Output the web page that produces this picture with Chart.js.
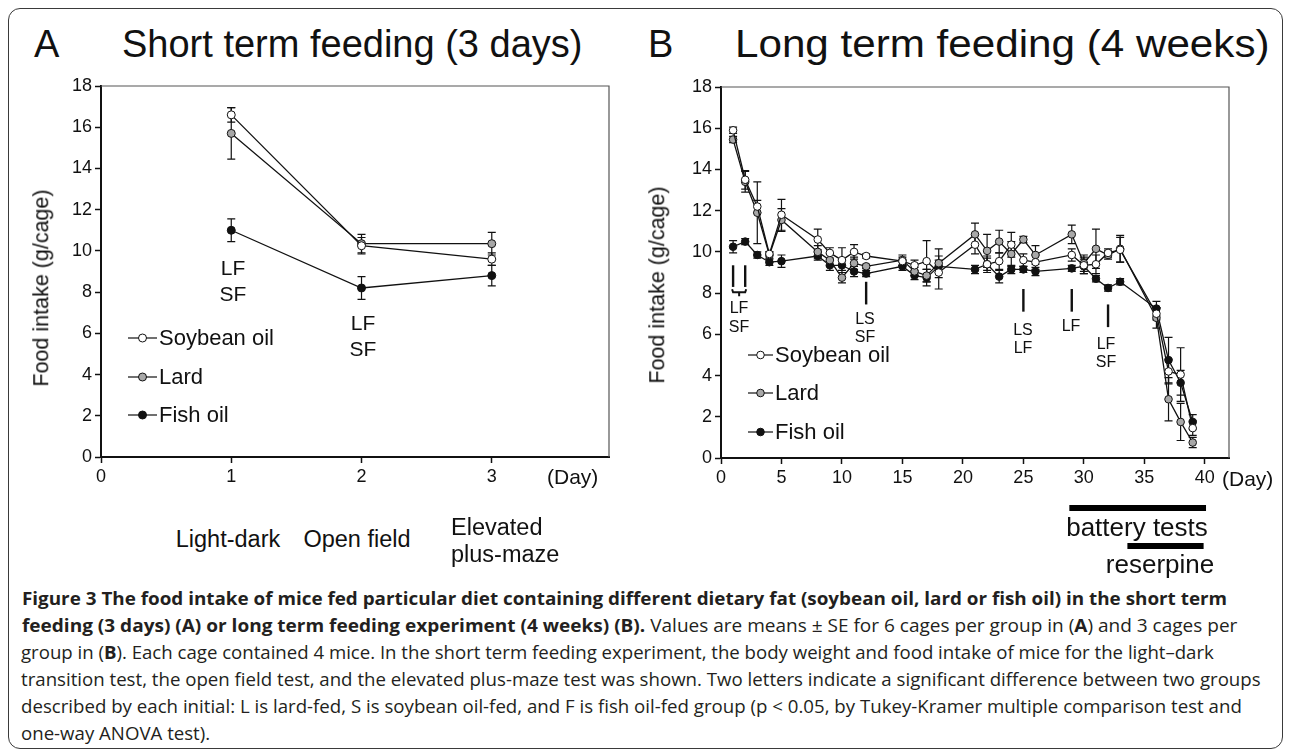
<!DOCTYPE html>
<html>
<head>
<meta charset="utf-8">
<script src="https://cdn.jsdelivr.net/npm/chart.js@4.4.0/dist/chart.umd.min.js"></script>
<style>
body{margin:0;background:#fff;width:1290px;height:752px;overflow:hidden;position:relative;font-family:"Liberation Sans",Arial,sans-serif;color:#111}
#frame{position:absolute;left:8px;top:8px;width:1275px;height:741px;border:1.5px solid #3a3a3a;border-radius:12px;box-sizing:border-box}
canvas{position:absolute}
.t{position:absolute;white-space:nowrap;line-height:1}
.cap{position:absolute;white-space:nowrap;line-height:1;font-family:"Open Sans",sans-serif;font-size:18px;color:#231f20;transform-origin:0 50%}
.cap b{font-weight:700}
</style>
</head>
<body>
<div id="frame"></div>
<canvas id="chartA" width="640" height="430" style="left:0;top:70px"></canvas>
<canvas id="chartB" width="650" height="510" style="left:640px;top:70px"></canvas>

<div class="cap" id="c1" style="left:22px;top:598px"><b>Figure 3 The food intake of mice fed particular diet containing different dietary fat (soybean oil, lard or fish oil) in the short term</b></div>
<div class="cap" id="c2" style="left:22px;top:625px"><b>feeding (3 days) (A) or long term feeding experiment (4 weeks) (B).</b> Values are means ± SE for 6 cages per group in (<b>A</b>) and 3 cages per</div>
<div class="cap" id="c3" style="left:21px;top:652px">group in (<b>B</b>). Each cage contained 4 mice. In the short term feeding experiment, the body weight and food intake of mice for the light–dark</div>
<div class="cap" id="c4" style="left:21px;top:679px">transition test, the open field test, and the elevated plus-maze test was shown. Two letters indicate a significant difference between two groups</div>
<div class="cap" id="c5" style="left:21px;top:706px">described by each initial: L is lard-fed, S is soybean oil-fed, and F is fish oil-fed group (p &lt; 0.05, by Tukey-Kramer multiple comparison test and</div>
<div class="cap" id="c6" style="left:21px;top:733px">one-way ANOVA test).</div>

<script>
// values
const seriesNames = ['Soybean oil', 'Lard', 'Fish oil'];
const yTicks = [0, 2, 4, 6, 8, 10, 12, 14, 16, 18];
const xTicksA = [0, 1, 2, 3];
const xTicksB = [0, 5, 10, 15, 20, 25, 30, 35, 40];

// A: short term feeding
const dayA = [1, 2, 3];
const soyA = [16.6, 10.25, 9.6];
const soyErrA = [0.35, 0.4, 0.3];
const lardA = [15.7, 10.35, 10.35];
const lardErrA = [1.25, 0.45, 0.55];
const fishA = [11.0, 8.2, 8.8];
const fishErrA = [0.55, 0.55, 0.5];

// B: long term feeding
const dayB = [1, 2, 3, 4, 5, 8, 9, 10, 11, 12, 15, 16, 17, 18, 21, 22, 23, 24, 25, 26, 29, 30, 31, 32, 33, 36, 37, 38, 39];
const soyB = [15.9, 13.5, 12.2, 9.9, 11.8, 10.6, 9.95, 9.6, 10.0, 9.8, 9.55, 9.35, 9.55, 9.0, 10.35, 9.4, 9.55, 10.35, 9.6, 9.5, 9.85, 9.35, 9.4, 9.95, 10.1, 7.0, 4.2, 4.05, 1.45];
const soyErrB = [0.15, 0.45, 0.3, 0.1, 0.75, 0.5, 0.25, 0.6, 0.35, 0.1, 0.2, 0.25, 1.0, 0.8, 0.45, 0.4, 0.4, 0.6, 0.3, 0.35, 0.3, 0.4, 0.45, 0.2, 0.6, 0.3, 0.6, 1.3, 0.35];
const lardB = [15.45, 13.4, 11.9, 9.85, 11.55, 10.0, 9.6, 8.75, 9.45, 9.3, 9.6, 9.05, 8.85, 9.45, 10.85, 10.05, 10.5, 9.9, 10.6, 9.85, 10.85, 9.45, 10.15, 9.85, 10.15, 6.8, 2.85, 1.75, 0.75];
const lardErrB = [0.15, 0.5, 1.5, 0.15, 0.55, 0.3, 0.3, 0.25, 0.3, 0.1, 0.25, 0.2, 0.3, 0.7, 0.55, 0.8, 0.55, 0.6, 0.15, 0.45, 0.45, 0.4, 0.95, 0.2, 0.65, 0.5, 1.05, 0.9, 0.25];
const fishB = [10.25, 10.5, 9.85, 9.5, 9.55, 9.8, 9.35, 9.35, 9.05, 8.95, 9.3, 8.85, 8.75, 9.3, 9.15, 9.4, 8.8, 9.15, 9.15, 9.05, 9.2, 9.3, 8.7, 8.25, 8.55, 7.25, 4.75, 3.65, 1.75];
const fishErrB = [0.3, 0.15, 0.15, 0.15, 0.3, 0.2, 0.25, 0.25, 0.25, 0.15, 0.2, 0.2, 0.4, 0.3, 0.2, 0.3, 0.3, 0.2, 0.15, 0.2, 0.15, 0.35, 0.15, 0.15, 0.15, 0.35, 1.1, 0.6, 0.35];

const fills = ['#ffffff', '#a8a8a8', '#111111'];
const FONT = '"Liberation Sans", Arial, sans-serif';

function makeSets(days, vals, errs, r) {
    return vals.map((v, k) => ({
        label: seriesNames[k],
        data: days.map((d, i) => ({x: d, y: v[i]})),
        errs: errs[k],
        borderColor: '#111',
        borderWidth: 1.3,
        pointBackgroundColor: fills[k],
        pointBorderColor: '#111',
        pointBorderWidth: 1,
        pointRadius: r,
        pointHoverRadius: r,
        fill: false,
        tension: 0
    }));
}

function makeScales(xTicks, xMax, yWidth, xHeight) {
    const tickFont = {family: FONT, size: 18};
    return {
        x: {
            type: 'linear', min: 0, max: xMax,
            afterBuildTicks: s => { s.ticks = xTicks.map(v => ({value: v})); },
            afterFit: s => { s.height = xHeight; },
            grid: {drawOnChartArea: false, tickLength: 6, tickColor: '#111', tickWidth: 1.5},
            border: {color: '#111', width: 2},
            ticks: {font: tickFont, color: '#111', padding: 3, maxRotation: 0, autoSkip: false}
        },
        y: {
            min: 0, max: 18,
            afterBuildTicks: s => { s.ticks = yTicks.map(v => ({value: v})); },
            afterFit: s => { s.width = yWidth; },
            grid: {drawOnChartArea: false, tickLength: 6, tickColor: '#111', tickWidth: 1.5},
            border: {color: '#111', width: 2},
            ticks: {font: tickFont, color: '#111', padding: 3, autoSkip: false}
        }
    };
}

// error bars, drawn under the markers
const errorBars = {
    id: 'errorBars',
    beforeDatasetsDraw(chart) {
        const {ctx, scales: {x, y}} = chart;
        ctx.save();
        ctx.strokeStyle = '#111';
        ctx.lineWidth = 1.2;
        chart.data.datasets.forEach(ds => {
            ds.data.forEach((p, i) => {
                const e = ds.errs[i];
                const px = x.getPixelForValue(p.x);
                const top = y.getPixelForValue(p.y + e);
                const bot = y.getPixelForValue(p.y - e);
                ctx.beginPath();
                ctx.moveTo(px, top); ctx.lineTo(px, bot);
                ctx.moveTo(px - 4, top); ctx.lineTo(px + 4, top);
                ctx.moveTo(px - 4, bot); ctx.lineTo(px + 4, bot);
                ctx.stroke();
            });
        });
        ctx.restore();
    }
};

// thin top/right edge of the plot box
const boxEdge = {
    id: 'boxEdge',
    beforeDatasetsDraw(chart) {
        const {ctx, chartArea: a} = chart;
        ctx.save();
        ctx.strokeStyle = '#555';
        ctx.lineWidth = 1.2;
        ctx.beginPath();
        ctx.moveTo(a.left, a.top);
        ctx.lineTo(a.right, a.top);
        ctx.lineTo(a.right, a.bottom);
        ctx.stroke();
        ctx.restore();
    }
};

// legend: short line with marker, label on the right
const sideLegend = {
    id: 'sideLegend',
    afterDraw(chart, args, opts) {
        const ctx = chart.ctx;
        ctx.save();
        chart.data.datasets.forEach((ds, i) => {
            const y = opts.y[i];
            ctx.strokeStyle = '#111';
            ctx.lineWidth = 1.2;
            ctx.beginPath(); ctx.moveTo(opts.x0, y); ctx.lineTo(opts.x1, y); ctx.stroke();
            ctx.beginPath();
            ctx.arc((opts.x0 + opts.x1) / 2, y, ds.pointRadius, 0, Math.PI * 2);
            ctx.fillStyle = ds.pointBackgroundColor;
            ctx.fill();
            ctx.lineWidth = 1;
            ctx.stroke();
            ctx.fillStyle = '#111';
            ctx.font = '22px ' + FONT;
            ctx.textBaseline = 'middle';
            ctx.fillText(ds.label, opts.x1 + 2, y + 1);
        });
        ctx.restore();
    }
};

// significance ticks and the period bars under the x axis (panel B)
const marks = {
    id: 'marks',
    afterDraw(chart, args, opts) {
        const {ctx, scales: {x, y}} = chart;
        ctx.save();
        ctx.strokeStyle = '#111';
        ctx.lineWidth = 2.4;
        (opts.ticks || []).forEach(t => {
            const px = x.getPixelForValue(t.day);
            ctx.beginPath();
            ctx.moveTo(px, y.getPixelForValue(t.from));
            ctx.lineTo(px, y.getPixelForValue(t.to));
            ctx.stroke();
        });
        (opts.brackets || []).forEach(b => {
            const x1 = x.getPixelForValue(b.from), x2 = x.getPixelForValue(b.to);
            const py = y.getPixelForValue(b.at);
            ctx.lineWidth = 2;
            ctx.beginPath();
            ctx.moveTo(x1 - 1, py - 3); ctx.lineTo(x1, py); ctx.lineTo(x2, py); ctx.lineTo(x2 + 1, py - 3);
            ctx.moveTo((x1 + x2) / 2, py); ctx.lineTo((x1 + x2) / 2, py + 4);
            ctx.stroke();
        });
        ctx.fillStyle = '#000';
        (opts.periods || []).forEach(p => {
            const x1 = x.getPixelForValue(p.from), x2 = x.getPixelForValue(p.to);
            ctx.fillRect(x1, p.y - 3, x2 - x1, 6);
        });
        ctx.restore();
    }
};

Chart.defaults.font.family = FONT;
Chart.defaults.animation = false;

new Chart('chartA', {
    type: 'line',
    data: {datasets: makeSets(dayA, [soyA, lardA, fishA], [soyErrA, lardErrA, fishErrA], 4)},
    options: {
        responsive: false,
        layout: {padding: {left: 0, top: 16, right: 31, bottom: 0}},
        scales: makeScales(xTicksA, 3.9, 101, 43),
        plugins: {
            legend: {display: false},
            tooltip: {enabled: false},
            sideLegend: {x0: 128, x1: 157, y: [268, 307, 345]}
        }
    },
    plugins: [boxEdge, errorBars, sideLegend]
});

new Chart('chartB', {
    type: 'line',
    data: {datasets: makeSets(dayB, [soyB, lardB, fishB], [soyErrB, lardErrB, fishErrB], 3.8)},
    options: {
        responsive: false,
        layout: {padding: {left: 0, top: 17, right: 61, bottom: 0}},
        scales: makeScales(xTicksB, 42, 81, 122),
        plugins: {
            legend: {display: false},
            tooltip: {enabled: false},
            sideLegend: {x0: 108, x1: 133, y: [285, 323, 362]},
            marks: {
                ticks: [
                    {day: 1, from: 8.3, to: 9.35}, {day: 2, from: 8.3, to: 9.35},
                    {day: 12, from: 7.45, to: 8.55}, {day: 25, from: 7.1, to: 8.2},
                    {day: 29, from: 7.1, to: 8.2}, {day: 32, from: 6.35, to: 7.45}
                ],
                brackets: [{from: 1, to: 2, at: 8.04}],
                periods: [{from: 28.8, to: 40.1, y: 438}, {from: 33.6, to: 39.9, y: 476}]
            }
        }
    },
    plugins: [boxEdge, errorBars, sideLegend, marks]
});

// page text
function put(text, x, y, size, opts = {}) {
    const d = document.createElement('div');
    d.className = 't';
    d.textContent = text;
    d.style.fontSize = size + 'px';
    d.style.left = x + 'px';
    d.style.top = y + 'px';
    const ax = opts.left ? '0' : '-50%';
    d.style.transformOrigin = opts.left ? '0 50%' : '50% 50%';
    document.body.appendChild(d);
    let sx = '';
    if (opts.right) sx = ' scaleX(' + ((opts.right - x) / d.scrollWidth) + ')';
    d.style.transform = 'translate(' + ax + ',-50%)' + (opts.rot ? ' rotate(' + opts.rot + 'deg)' : '') + sx;
}

put('A', 34, 44, 38, {left: true});
put('Short term feeding (3 days)', 122, 44, 38, {left: true});
put('B', 648, 44, 38, {left: true});
put('Long term feeding (4 weeks)', 735, 44, 38, {left: true, right: 1270});

put('Food intake (g/cage)', 42, 288, 21.5, {rot: -90});
put('Food intake (g/cage)', 658, 285, 21.5, {rot: -90});
put('(Day)', 547, 476, 21, {left: true});
put('(Day)', 1222, 478, 21, {left: true});

put('LF', 233, 267, 21); put('SF', 233, 293, 21);
put('LF', 363, 322, 21); put('SF', 363, 348, 21);

put('Light-dark', 228, 540, 23.5);
put('Open field', 357, 540, 23.5);
put('Elevated', 451, 528, 23.5, {left: true});
put('plus-maze', 451, 555, 23.5, {left: true});

put('LF', 739, 308, 16); put('SF', 739, 327, 16);
put('LS', 865, 319, 16); put('SF', 865, 337, 16);
put('LS', 1023, 330, 16); put('LF', 1023, 348, 16);
put('LF', 1071, 326, 16);
put('LF', 1106, 344, 16); put('SF', 1106, 362, 16);

put('battery tests', 1137, 527, 26);
put('reserpine', 1160, 564, 26);

// caption lines fitted to the widths in the figure; the short last line
// takes the mean squeeze of the full lines
const capRight = [1227, 1237, 1214, 1261, 1242];
const squeeze = [];
capRight.forEach((r, i) => {
    const el = document.getElementById('c' + (i + 1));
    const left = parseFloat(el.style.left);
    const k = (r - left) / el.scrollWidth;
    squeeze.push(k);
    el.style.transform = 'translateY(-50%) scaleX(' + k + ')';
});
const meanK = squeeze.slice(2).reduce((a, b) => a + b) / 3;
document.getElementById('c6').style.transform = 'translateY(-50%) scaleX(' + meanK + ')';
</script>
</body>
</html>
